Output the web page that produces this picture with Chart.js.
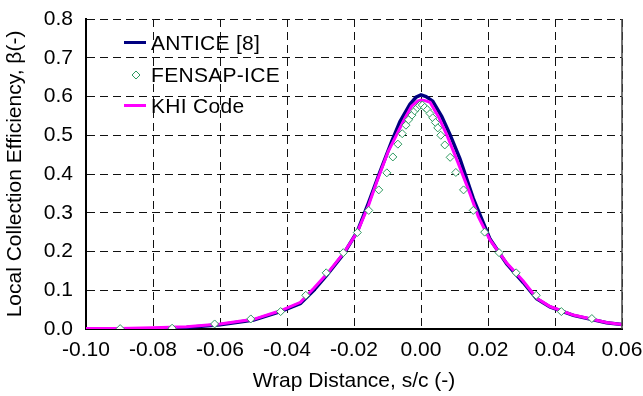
<!DOCTYPE html>
<html>
<head>
<meta charset="utf-8">
<script src="https://cdn.jsdelivr.net/npm/chart.js@4.4.1/dist/chart.umd.min.js"></script>
<style>
  html, body { margin: 0; padding: 0; background: #fff; }
  #wrap { position: relative; width: 643px; height: 396px; }
  .leg { position: absolute; left: 124px; font: 21px "Liberation Sans", Arial, sans-serif; color: #000; height: 24px; line-height: 24px; white-space: nowrap; letter-spacing: 0.3px; }
  .leg .sym { display: inline-block; width: 22px; height: 24px; vertical-align: top; position: relative; margin-right: 5px; }
  .leg .ln { position: absolute; left: 0; right: 0; top: 10px; height: 3px; }
  .leg svg { position: absolute; left: 6px; top: 6px; }
</style>
</head>
<body>
<div id="wrap">
  <canvas id="chart" width="643" height="396"></canvas>
  <div class="leg" style="top:31px"><span class="sym"><span class="ln" style="background:#000080"></span></span>ANTICE [8]</div>
  <div class="leg" style="top:63px"><span class="sym"><svg width="12" height="12"><path d="M6 2 L10 6 L6 10 L2 6 Z" fill="#fff" stroke="#2e9960" stroke-width="1"/></svg></span>FENSAP-ICE</div>
  <div class="leg" style="top:94px"><span class="sym"><span class="ln" style="background:#ff00ff"></span></span>KHI Code</div>
</div>
<script>
// ANTICE [8]
const anticeX = [-0.081, -0.070, -0.060, -0.050, -0.042, -0.036, -0.032, -0.028, -0.023, -0.019, -0.0157, -0.0125, -0.0088, -0.0063, -0.0033, -0.0015, 0.0, 0.0015, 0.0035, 0.0062, 0.0087, 0.0116, 0.0156, 0.0206, 0.0256, 0.0305, 0.0345, 0.0385, 0.0455, 0.0554, 0.0605];
const anticeY = [0.000, 0.004, 0.011, 0.023, 0.045, 0.066, 0.100, 0.140, 0.195, 0.252, 0.325, 0.400, 0.483, 0.535, 0.580, 0.598, 0.604, 0.600, 0.588, 0.548, 0.501, 0.440, 0.337, 0.232, 0.168, 0.120, 0.078, 0.057, 0.035, 0.016, 0.011];

// FENSAP-ICE
const fensapX = [-0.0898, -0.0743, -0.0616, -0.0508, -0.0419, -0.0344, -0.0283, -0.0232, -0.0190, -0.0156, -0.0126, -0.0102, -0.0084, -0.0069, -0.0056, -0.0045, -0.0037, -0.0027, -0.0019, -0.0011, -0.0004, 0.0004, 0.0011, 0.0019, 0.0027, 0.0035, 0.0043, 0.0050, 0.0059, 0.0071, 0.0087, 0.0104, 0.0127, 0.0156, 0.0190, 0.0233, 0.0284, 0.0344, 0.0419, 0.0510];
const fensapY = [0.001, 0.002, 0.013, 0.026, 0.045, 0.087, 0.145, 0.197, 0.249, 0.306, 0.359, 0.403, 0.444, 0.477, 0.504, 0.526, 0.540, 0.552, 0.563, 0.571, 0.577, 0.578, 0.572, 0.566, 0.556, 0.545, 0.533, 0.519, 0.500, 0.475, 0.443, 0.404, 0.359, 0.306, 0.250, 0.197, 0.145, 0.087, 0.045, 0.027];

// KHI Code
const khiX = [-0.1015, -0.090, -0.080, -0.070, -0.060, -0.050, -0.042, -0.036, -0.032, -0.028, -0.023, -0.019, -0.0157, -0.0132, -0.0098, -0.0073, -0.0048, -0.0028, -0.001, 0.0, 0.001, 0.0027, 0.0052, 0.0077, 0.0111, 0.0146, 0.0171, 0.0206, 0.0256, 0.0305, 0.0345, 0.0385, 0.0455, 0.0554, 0.0612];
const khiY = [0.001, 0.001, 0.003, 0.006, 0.013, 0.025, 0.047, 0.069, 0.105, 0.143, 0.197, 0.250, 0.318, 0.380, 0.458, 0.501, 0.544, 0.575, 0.588, 0.591, 0.590, 0.585, 0.548, 0.501, 0.428, 0.350, 0.290, 0.230, 0.170, 0.124, 0.080, 0.058, 0.036, 0.017, 0.010];

const xTicks = [-0.10, -0.08, -0.06, -0.04, -0.02, 0.00, 0.02, 0.04, 0.06];
const yTicks = [0.0, 0.1, 0.2, 0.3, 0.4, 0.5, 0.6, 0.7, 0.8];

const pts = (xs, ys) => xs.map((x, i) => ({ x, y: ys[i] }));

// solid frame line on the right edge of the plot
const rightEdge = {
  id: "rightEdge",
  afterDraw(chart) {
    const { ctx, chartArea: a } = chart;
    ctx.save();
    ctx.strokeStyle = "#444";
    ctx.lineWidth = 1.5;
    ctx.beginPath();
    ctx.moveTo(a.right, a.top);
    ctx.lineTo(a.right, a.bottom);
    ctx.stroke();
    ctx.restore();
  }
};

Chart.defaults.font.family = "'Liberation Sans', Arial, sans-serif";
Chart.defaults.font.size = 21;
Chart.defaults.color = "#000";

new Chart(document.getElementById("chart"), {
  type: "line",
  data: {
    datasets: [
      { label: "ANTICE [8]", data: pts(anticeX, anticeY), borderColor: "#000080", borderWidth: 3.5, pointRadius: 0, tension: 0, order: 2 },
      { label: "FENSAP-ICE", data: pts(fensapX, fensapY), showLine: false, pointStyle: "rectRot", pointRadius: 4, pointBorderWidth: 1, pointBorderColor: "#2e9960", pointBackgroundColor: "#fff", order: 0 },
      { label: "KHI Code", data: pts(khiX, khiY), borderColor: "#ff00ff", borderWidth: 3, pointRadius: 0, tension: 0, order: 1 }
    ]
  },
  options: {
    responsive: false,
    animation: false,
    layout: { padding: { left: 0, top: 19, right: 21, bottom: 0 } },
    plugins: { legend: { display: false }, tooltip: { enabled: false } },
    scales: {
      x: {
        type: "linear",
        min: -0.10, max: 0.06,
        afterBuildTicks: s => { s.ticks = xTicks.map(v => ({ value: v })); },
        afterFit: s => { s.height = 67; s.paddingLeft = 0; s.paddingRight = 0; },
        ticks: { padding: 9, callback: v => (Math.abs(v) < 1e-9 ? 0 : v).toFixed(2) },
        grid: { color: "#111", lineWidth: 1, drawTicks: false },
        border: { color: "#000", width: 2, dash: [8, 5] },
        title: { display: true, text: "Wrap Distance, s/c (-)", font: { size: 21 }, padding: { top: 0, bottom: 2 } }
      },
      y: {
        min: 0, max: 0.8,
        afterBuildTicks: s => { s.ticks = yTicks.map(v => ({ value: v })); },
        afterFit: s => { s.width = 86; s.paddingTop = 0; s.paddingBottom = 0; },
        ticks: { padding: 13, callback: v => v.toFixed(1) },
        grid: { color: "#111", lineWidth: 1, drawTicks: false },
        border: { color: "#000", width: 2, dash: [8, 5] },
        title: { display: true, text: "Local Collection Efficiency, β(-)", font: { size: 21 }, padding: { top: 3, bottom: 4 } }
      }
    }
  },
  plugins: [rightEdge]
});
</script>
</body>
</html>
